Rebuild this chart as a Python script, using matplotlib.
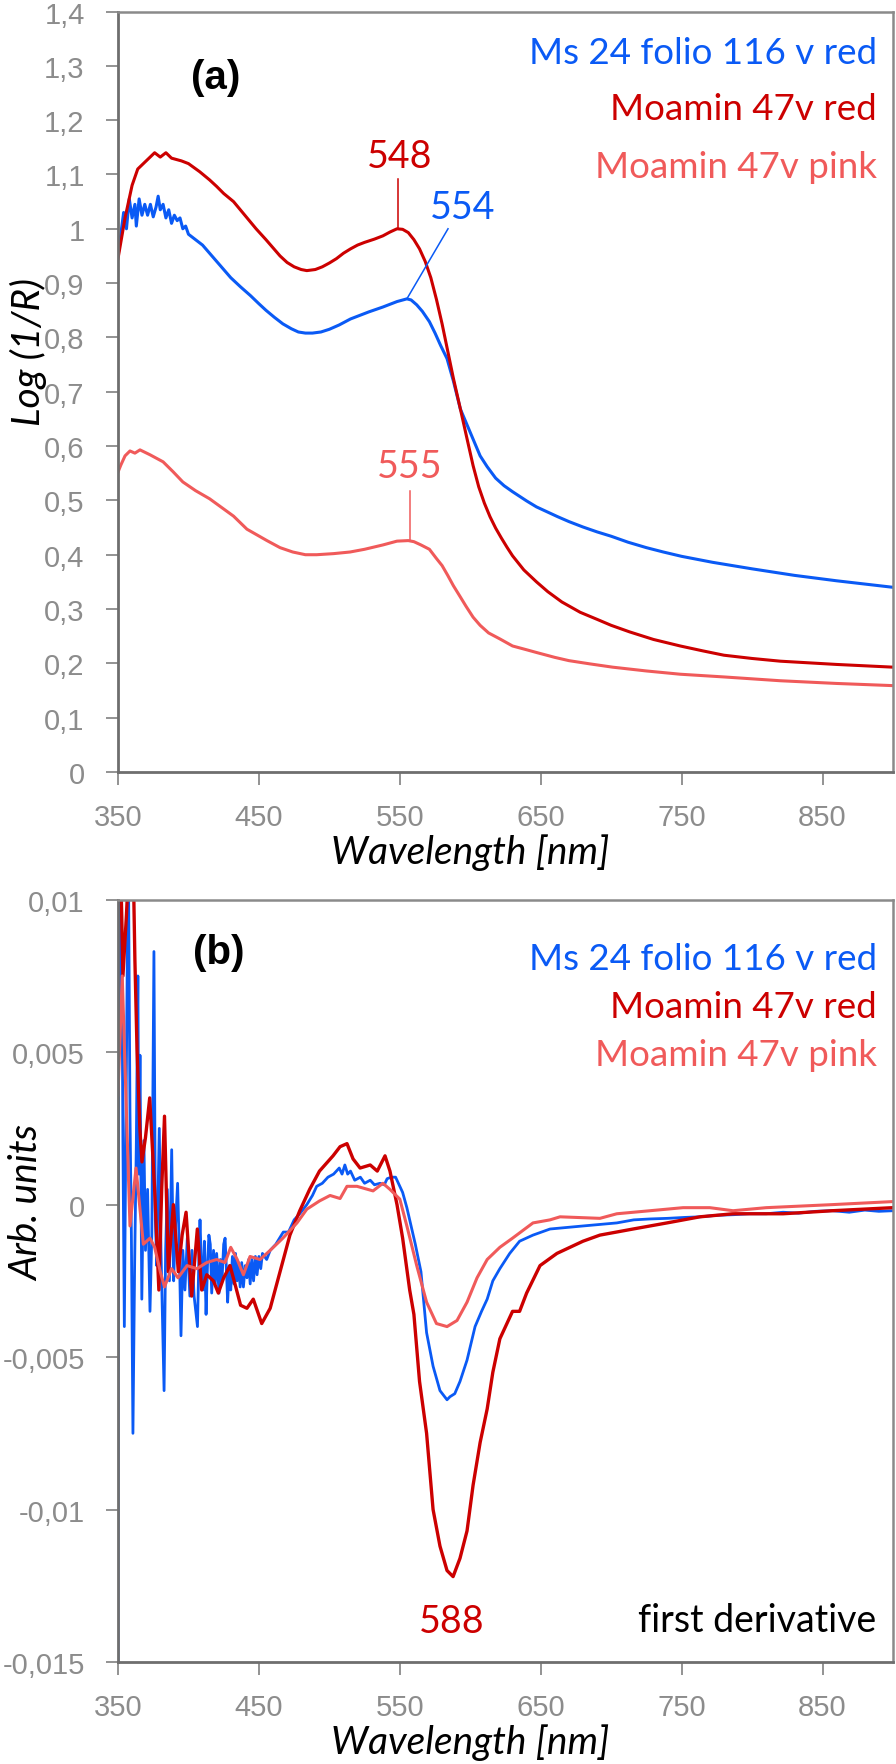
import numpy as np
import matplotlib
matplotlib.use("Agg")
import matplotlib.pyplot as plt
from matplotlib.ticker import FixedLocator, FixedFormatter

# ---------------- data: panel (a) Log(1/R) ----------------
wl_red_a = [350, 355, 360, 364, 368, 372, 376, 380, 384, 388, 395, 400, 408, 415, 420, 425, 432,
            440, 448, 455, 460, 465, 470, 475, 480, 484, 490, 495, 500, 505, 510, 515, 520, 525,
            532, 538, 543, 548, 552, 556, 560, 564, 568, 572, 576, 580, 584, 588, 593, 598, 602,
            606, 610, 614, 618, 622, 626, 630, 638, 647, 655, 665, 678, 690, 700, 713, 730, 749,
            765, 780, 800, 820, 860, 900]
val_red_a = [0.945, 1.02, 1.08, 1.11, 1.12, 1.13, 1.14, 1.132, 1.14, 1.13, 1.125, 1.12, 1.105,
             1.09, 1.078, 1.065, 1.05, 1.025, 1.0, 0.98, 0.965, 0.95, 0.938, 0.93, 0.925, 0.923,
             0.925, 0.93, 0.937, 0.945, 0.955, 0.963, 0.97, 0.975, 0.981, 0.987, 0.994, 1.0,
             0.999, 0.993, 0.98, 0.963, 0.94, 0.91, 0.87, 0.825, 0.775, 0.725, 0.668, 0.61,
             0.564, 0.525, 0.495, 0.47, 0.449, 0.431, 0.414, 0.398, 0.372, 0.35, 0.332, 0.313,
             0.294, 0.281, 0.27, 0.258, 0.244, 0.232, 0.223, 0.215, 0.209, 0.204, 0.198, 0.193]

wl_blue_a = [350, 352, 354, 356, 358, 360, 362, 363, 365, 367, 369, 371, 373, 375, 377, 378.5,
             380, 382, 384, 386, 388, 390, 392, 394, 396, 398, 400, 405, 410, 415, 420, 425, 430,
             437, 444, 450, 455, 461, 467, 473, 478, 483, 488, 494, 500, 507, 515, 521, 528, 538,
             548, 555, 558, 562, 566, 571, 575, 579, 583.5, 588, 593, 600, 607, 612, 618, 624,
             630, 640, 647, 654.5, 662, 670, 680, 690, 700, 712, 725, 737, 750, 772, 800, 830,
             860, 880, 900]
val_blue_a = [0.95, 0.99, 1.03, 1.0, 1.055, 1.02, 1.045, 1.005, 1.055, 1.025, 1.045, 1.025, 1.045,
              1.022, 1.04, 1.06, 1.035, 1.045, 1.02, 1.035, 1.01, 1.025, 1.015, 1.02, 1.0, 1.005,
              0.99, 0.98, 0.97, 0.955, 0.94, 0.925, 0.91, 0.893, 0.877, 0.862, 0.85, 0.837,
              0.825, 0.816, 0.81, 0.808, 0.808, 0.81, 0.815, 0.823, 0.834, 0.84, 0.847, 0.856,
              0.866, 0.871, 0.869, 0.86, 0.848, 0.829, 0.808, 0.785, 0.761, 0.72, 0.668, 0.625,
              0.582, 0.562, 0.541, 0.527, 0.516, 0.499, 0.488, 0.479, 0.47, 0.461, 0.451, 0.442,
              0.434, 0.423, 0.413, 0.405, 0.397, 0.386, 0.374, 0.362, 0.352, 0.346, 0.34]

wl_pink_a = [350, 352, 355, 358.5, 362, 365.6, 372.7, 382, 389, 396, 405, 415, 432, 441.5, 455.7,
             465, 474, 483, 491, 503, 514.7, 525, 538, 548, 556, 560, 565, 571, 576, 580, 584,
             588, 593, 597, 602, 607, 613, 621, 630, 640, 647, 660, 670, 685, 701, 725, 749, 780,
             820, 860, 900]
val_pink_a = [0.552, 0.565, 0.582, 0.591, 0.587, 0.593, 0.584, 0.571, 0.553, 0.534, 0.518, 0.503,
              0.471, 0.447, 0.426, 0.413, 0.405, 0.40, 0.40, 0.402, 0.405, 0.41, 0.418, 0.425,
              0.426, 0.424, 0.418, 0.41, 0.393, 0.38, 0.362, 0.343, 0.322, 0.305, 0.285, 0.27,
              0.256, 0.245, 0.232, 0.225, 0.22, 0.211, 0.205, 0.199, 0.193, 0.186, 0.18, 0.175,
              0.168, 0.163, 0.159]

# ---------------- data: panel (b) first derivative (x1e-3) ----------------
wl_red_b = [350, 351.5, 353.5, 356, 358.5, 360.5, 362, 363.5, 365.5, 367, 369.5, 372.5, 376, 379,
            381, 383, 385.7, 389.3, 392.8, 395.5, 398.3, 402.3, 406.3, 409.4, 413, 417.7, 421.2,
            425, 429.5, 433, 437, 441.5, 446, 452, 458, 465, 472, 479, 486, 493, 502.6, 507.6,
            512.5, 516.8, 521.8, 529, 534, 539.5, 543, 548, 552, 557, 560, 564, 569, 573.6,
            578.5, 583.5, 587.8, 592.7, 597.7, 602, 607, 612, 616, 621, 626, 630, 635, 640,
            649.5, 661.5, 680, 692, 715.5, 739.6, 763, 786.5, 822, 857, 900]
val_red_b = [11, 12, 7.5, 9.5, 12, 12, 8, 5.1, 2.5, 1.4, 2.2, 3.5, 0.5, -2.8, 0.5, 2.9, -2.2,
             0.0, -2.2, -1.0, -0.25, -3.0, -0.8, -2.8, -2.3, -2.5, -2.9, -2.4, -2.0, -2.6, -3.3,
             -3.4, -3.1, -3.9, -3.4, -2.2, -1.0, -0.2, 0.5, 1.1, 1.6, 1.9, 2.0, 1.5, 1.2, 1.3,
             1.1, 1.6, 1.1, 0.0, -1.1, -2.8, -3.6, -5.8, -7.5, -10.0, -11.2, -12.0, -12.2,
             -11.6, -10.7, -9.2, -7.8, -6.7, -5.5, -4.4, -3.9, -3.5, -3.5, -2.9, -2.0, -1.6,
             -1.2, -1.0, -0.8, -0.6, -0.4, -0.3, -0.3, -0.2, -0.1]

wl_blue_b = [350.0, 350.6, 351.6, 352.3, 353.5, 354.5, 355.5, 357.3, 358.5, 359.5, 360.6, 361.8,
             363.0, 364.1, 364.8, 365.6, 366.9, 368.4, 369.5, 371.0, 372.7, 374.0, 375.5, 376.5,
             377.5, 379.3, 380.5, 382.2, 382.7, 383.8, 385.0, 386.5, 388.1, 389.5, 390.5, 392.3,
             393.5, 394.7, 396.0, 397.5, 399.2, 401.0, 402.5, 404.0, 406.4, 407.5, 408.2, 409.2,
             410.3, 411.3, 412.5, 413.5, 414.5, 415.5, 416.5, 417.8, 419.0, 420.0, 421.7, 422.7,
             423.8, 425.0, 426.0, 427.0, 427.8, 429.0, 430.0, 431.2, 432.3, 433.4, 434.5, 435.5,
             436.7, 437.8, 439.0, 440.3, 441.5, 442.7, 443.8, 445.0, 446.2, 447.5, 448.7, 450.0,
             451.3, 452.5, 455.5, 458, 462, 467.3, 471, 475, 479, 484, 488, 491, 495, 499, 503,
             507, 509, 511, 513, 515, 518, 522, 525, 529, 532, 536, 539, 541, 544, 547, 550, 552,
             555, 558, 561, 565, 569, 573.6, 578.5, 583.5, 585.6, 589, 592.7, 597.7, 603.4, 608,
             612, 616, 621, 628, 635, 644.5, 656.6, 668, 680, 692, 704, 716, 727.6, 740, 752,
             763, 775, 787, 798, 810, 822, 833, 845, 857, 869, 880, 890, 900]
val_blue_b = [-16, 12, 6, 12, 2, -4, 2, 12, 3, -1, -7.5, -2, 2, 7.5, 1, 4.9, -3.1, 2.1, -1.5,
              0.5, -3.5, -1, 8.3, -0.5, -2, 2.5, -1.5, -5.0, -6.1, -1.5, 0.5, -2.5, 1.8, -2.5,
              -1.0, 0.7, -1.5, -4.3, -1.5, -2.8, -1.1, -3.0, -1.5, -3.0, -4.0, -1.5, -0.5, -2.0,
              -2.8, -1.2, -3.6, -2.0, -1.0, -1.3, -2.9, -1.5, -2.6, -1.6, -2.9, -1.8, -2.5, -1.3,
              -1.1, -2.2, -3.2, -2.0, -2.8, -1.7, -2.6, -1.6, -2.5, -1.9, -2.7, -1.9, -2.7, -2.0,
              -2.4, -1.8, -2.6, -1.8, -2.5, -1.7, -2.3, -1.7, -2.1, -1.6, -1.8, -1.5, -1.3, -0.9,
              -0.9, -0.5, -0.3, 0.0, 0.3, 0.6, 0.7, 0.9, 1.0, 1.2, 1.0, 1.3, 1.0, 1.1, 0.8, 0.9,
              0.7, 0.8, 0.65, 0.7, 0.65, 0.85, 0.9, 0.9, 0.6, 0.4, -0.1, -0.7, -1.3, -2.2, -4.2,
              -5.3, -6.1, -6.4, -6.3, -6.2, -5.8, -5.1, -4.0, -3.5, -3.1, -2.5, -2.1, -1.6, -1.2,
              -1.0, -0.8, -0.75, -0.7, -0.65, -0.6, -0.5, -0.47, -0.45, -0.42, -0.4, -0.35,
              -0.33, -0.3, -0.3, -0.25, -0.28, -0.22, -0.2, -0.25, -0.18, -0.22, -0.2]

wl_pink_b = [350, 353, 358.5, 362.8, 368, 372.7, 376, 380, 383, 388, 392.6, 399, 406, 413, 420,
             426, 430, 434.6, 439, 443.7, 450.8, 458, 467, 477, 484, 493, 500.5, 507.6, 512.5,
             519.6, 531, 538, 543, 550, 555, 562, 569, 576, 583.5, 590.6, 597.7, 604.8, 612,
             621, 630, 644.5, 656.6, 663.7, 692, 704, 727.6, 751, 770, 786.5, 810, 857, 900]
val_pink_b = [3.6, 7.5, -0.7, 1.2, -1.3, -1.1, -1.4, -2.2, -2.7, -2.1, -2.4, -2.0, -2.1, -1.9,
              -1.8, -1.9, -1.4, -1.8, -2.3, -1.7, -1.8, -1.5, -1.1, -0.6, -0.15, 0.12, 0.3, 0.2,
              0.6, 0.6, 0.45, 0.7, 0.5, 0.18, -0.7, -2.0, -3.2, -3.9, -4.0, -3.8, -3.2, -2.4,
              -1.8, -1.4, -1.1, -0.6, -0.5, -0.4, -0.45, -0.3, -0.2, -0.1, -0.1, -0.2, -0.1,
              0.0, 0.1]

series_names = ["Ms 24 folio 116 v red", "Moamin 47v red", "Moamin 47v pink"]
peaks_a = [548, 554, 555]
peak_b = 588

xticks = [350, 450, 550, 650, 750, 850]
yticks_a = [0, 0.1, 0.2, 0.3, 0.4, 0.5, 0.6, 0.7, 0.8, 0.9, 1.0, 1.1, 1.2, 1.3, 1.4]
ylabels_a = ["0", "0,1", "0,2", "0,3", "0,4", "0,5", "0,6", "0,7", "0,8", "0,9", "1", "1,1",
             "1,2", "1,3", "1,4"]
yticks_b = [-0.015, -0.01, -0.005, 0, 0.005, 0.01]
ylabels_b = ["-0,015", "-0,01", "-0,005", "0", "0,005", "0,01"]

# ---------------- style ----------------
BLUE = "#0a5af5"
RED = "#cc0000"
PINK = "#f05a5a"
TICKGRAY = "#8c8c8c"
W, H = 896, 1765
TXT = ["Lato", "DejaVu Sans"]
NUM = ["Liberation Sans", "DejaVu Sans"]
FS_LEG = 26.5
FS_LAB = 28

fig = plt.figure(figsize=(W / 100, H / 100), dpi=100)


def fx(px):
    return px / W


def fy(py):
    return 1 - py / H


def style_axes(ax, yticks, ylabels):
    ax.set_xlim(350, 900)
    ax.xaxis.set_major_locator(FixedLocator(xticks))
    ax.xaxis.set_major_formatter(FixedFormatter([str(t) for t in xticks]))
    ax.yaxis.set_major_locator(FixedLocator(yticks))
    ax.yaxis.set_major_formatter(FixedFormatter(ylabels))
    ax.tick_params(axis="both", direction="out", length=9, width=1.2, color="#808080",
                   labelcolor=TICKGRAY, labelsize=21)
    ax.tick_params(axis="y", pad=15)
    ax.tick_params(axis="x", pad=13)
    for lab in ax.get_xticklabels() + ax.get_yticklabels():
        lab.set_family(NUM)
    for s in ["left", "bottom"]:
        ax.spines[s].set_color("#6e6e6e")
        ax.spines[s].set_linewidth(2.0)
    for s in ["top", "right"]:
        ax.spines[s].set_color("#8a8a8a")
        ax.spines[s].set_linewidth(1.8)


# ---------------- panel (a) ----------------
axa = fig.add_axes([fx(118), fy(773), fx(893) - fx(118), fy(12.5) - fy(773)])
axa.plot(wl_blue_a, val_blue_a, color=BLUE, lw=2.2)
axa.plot(wl_red_a, val_red_a, color=RED, lw=2.2)
axa.plot(wl_pink_a, val_pink_a, color=PINK, lw=2.2)
axa.set_ylim(0, 1.4)
style_axes(axa, yticks_a, ylabels_a)

# peak annotations (a)
pr = np.interp(peaks_a[0], wl_red_a, val_red_a)
axa.plot([548.7, 548.7], [pr, 1.092], color=RED, lw=1.1)
axa.text(550.2, 1.134, str(peaks_a[0]), color=RED, fontsize=27, family=TXT,
         ha="center", va="center")
pb = np.interp(555, wl_blue_a, val_blue_a)
axa.plot([555, 584.2], [pb, 1.0], color=BLUE, lw=1.1)
axa.text(594.9, 1.04, str(peaks_a[1]), color=BLUE, fontsize=27, family=TXT,
         ha="center", va="center")
pp = np.interp(557, wl_pink_a, val_pink_a)
axa.plot([557, 557], [pp, 0.517], color=PINK, lw=1.1)
axa.text(557.2, 0.5635, str(peaks_a[2]), color=PINK, fontsize=27, family=TXT,
         ha="center", va="center")

# ---------------- panel (b) ----------------
axb = fig.add_axes([fx(118), fy(1663), fx(893) - fx(118), fy(900.7) - fy(1663)])
axb.plot(wl_blue_b, np.array(val_blue_b) * 1e-3, color=BLUE, lw=2.0)
axb.plot(wl_red_b, np.array(val_red_b) * 1e-3, color=RED, lw=2.4)
axb.plot(wl_pink_b, np.array(val_pink_b) * 1e-3, color=PINK, lw=2.2)
axb.set_ylim(-0.015, 0.01)
style_axes(axb, yticks_b, ylabels_b)
axb.text(587, -0.01365, str(peak_b), color=RED, fontsize=27, family=TXT,
         ha="center", va="center")
fig.text(fx(876), fy(1621), "first derivative", color="black", fontsize=27, family=TXT,
         ha="right", va="center")

# ---------------- legends / panel labels ----------------
colors = [BLUE, RED, PINK]
for name, c, ypx in zip(series_names, colors, [54, 110, 167]):
    fig.text(fx(877), fy(ypx), name, color=c, fontsize=FS_LEG, family=TXT, ha="right",
             va="center")
for name, c, ypx in zip(series_names, colors, [960, 1008, 1056]):
    fig.text(fx(877), fy(ypx), name, color=c, fontsize=FS_LEG, family=TXT, ha="right",
             va="center")

fig.text(fx(216), fy(78), "(a)", fontsize=29, fontweight="bold", family=NUM,
         ha="center", va="center")
fig.text(fx(219), fy(953), "(b)", fontsize=29, fontweight="bold", family=NUM,
         ha="center", va="center")

# axis labels
fig.text(fx(470), fy(853), "Wavelength [nm]", fontsize=FS_LAB, style="italic", family=TXT,
         ha="center", va="center")
fig.text(fx(470), fy(1743), "Wavelength [nm]", fontsize=FS_LAB, style="italic", family=TXT,
         ha="center", va="center")
fig.text(fx(28), fy(352), "Log (1/R)", fontsize=FS_LAB, style="italic", family=TXT,
         ha="center", va="center", rotation=90)
fig.text(fx(27), fy(1203), "Arb. units", fontsize=FS_LAB, style="italic", family=TXT,
         ha="center", va="center", rotation=90)

fig.savefig("out.png", dpi=100)
